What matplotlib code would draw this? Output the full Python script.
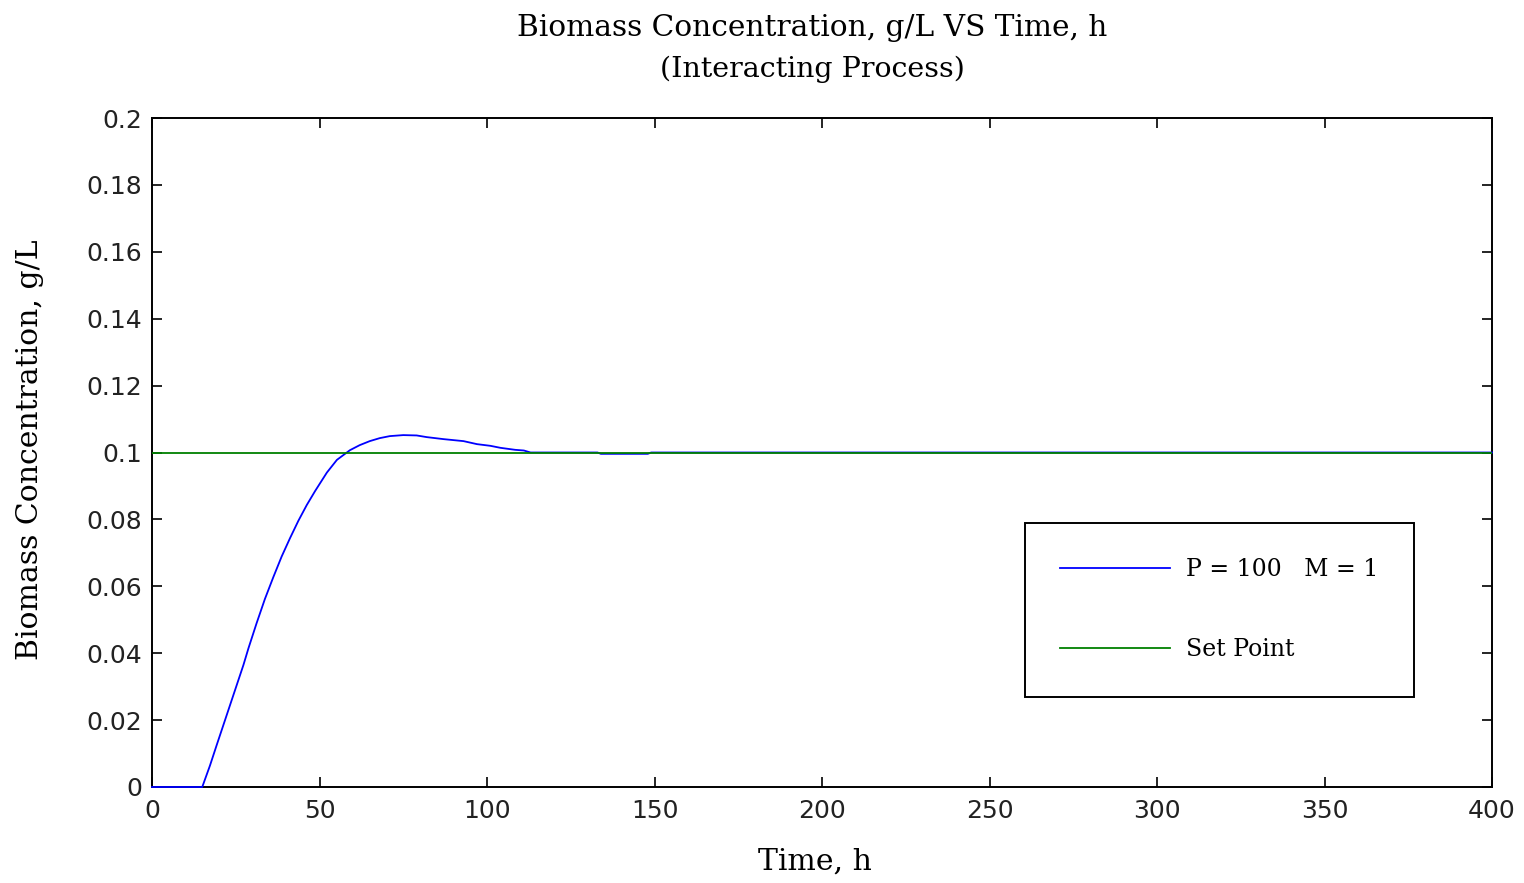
import matplotlib
matplotlib.use("Agg")
import matplotlib.pyplot as plt

# ---- data ----
time_h = [0, 15, 17.3, 19.3, 21.3, 23.3, 25.3, 27.3, 28.8, 31.2, 33.7, 36.2, 38.7,
          41.2, 43.7, 46.2, 48.7, 52.2, 55.2, 59.1, 62, 65, 68, 71,
          75, 79, 82, 87, 93, 97, 101, 104, 108.4, 111,
          113, 133, 134, 148, 149, 400]
biomass = [0, 0, 0.0064, 0.0125, 0.0185, 0.0245, 0.0305, 0.0365, 0.0415, 0.0489,
           0.0562, 0.0627, 0.0689, 0.0744, 0.0796, 0.0843, 0.0885, 0.0940,
           0.0978, 0.1007, 0.1022, 0.1034, 0.1043, 0.1049, 0.1052, 0.1051,
           0.1046, 0.1040, 0.1034, 0.1025, 0.1020, 0.1014, 0.1008, 0.1006,
           0.1000, 0.1000, 0.0996, 0.0996, 0.1000, 0.1000]
setpoint_t = [0, 400]
setpoint_y = [0.1, 0.1]

xticks = [0, 50, 100, 150, 200, 250, 300, 350, 400]
xticklabels = ["0", "50", "100", "150", "200", "250", "300", "350", "400"]
yticks = [0, 0.02, 0.04, 0.06, 0.08, 0.1, 0.12, 0.14, 0.16, 0.18, 0.2]
yticklabels = ["0", "0.02", "0.04", "0.06", "0.08", "0.1", "0.12", "0.14", "0.16", "0.18", "0.2"]

title_lines = ["Biomass Concentration, g/L VS Time, h", "(Interacting Process)"]
xlabel = "Time, h"
ylabel = "Biomass Concentration, g/L"
legend_labels = ["P = 100   M = 1", "Set Point"]

# ---- figure ----
W, H = 1524, 883
fig = plt.figure(figsize=(W / 100, H / 100), dpi=100)
ax = fig.add_axes([152 / W, 1 - 787 / H, (1492 - 152) / W, (787 - 118) / H])

serif = ["DejaVu Serif"]
sans = ["DejaVu Sans"]

l1, = ax.plot(time_h, biomass, color=(0, 0, 1), lw=1.3, zorder=3, clip_on=False)
l2, = ax.plot(setpoint_t, setpoint_y, color=(0, 0.5, 0), lw=1.3, zorder=3)

ax.set_xlim(0, 400)
ax.set_ylim(0, 0.2)
ax.set_xticks(xticks)
ax.set_xticklabels(xticklabels, fontfamily=sans, fontsize=18)
ax.set_yticks(yticks)
ax.set_yticklabels(yticklabels, fontfamily=sans, fontsize=18)
ax.tick_params(direction="in", length=7, width=1.2, top=True, right=True,
               colors="black", labelcolor="#222222")
ax.tick_params(axis="x", pad=9)
ax.tick_params(axis="y", pad=7)
for s in ax.spines.values():
    s.set_linewidth(1.4)
    s.set_color("black")

fig.text(812 / W, 1 - 28 / H, title_lines[0], ha="center", va="center",
         fontfamily=serif, fontsize=21.3)
fig.text(812 / W, 1 - 69 / H, title_lines[1], ha="center", va="center",
         fontfamily=serif, fontsize=20.5)
fig.text(815 / W, 1 - 862 / H, xlabel, ha="center", va="center",
         fontfamily=serif, fontsize=21.5)
fig.text(30 / W, 1 - 450 / H, ylabel, ha="center", va="center", rotation=90,
         fontfamily=serif, fontsize=21.5)

leg = ax.legend([l1, l2], legend_labels, loc="upper left",
                bbox_to_anchor=(1025 / W, 1 - 523 / H), bbox_transform=fig.transFigure,
                borderaxespad=0, prop={"family": serif, "size": 17},
                handlelength=4.66, handletextpad=0.68, labelspacing=2.4,
                borderpad=1.5, fancybox=False, framealpha=1, edgecolor="black")
leg.get_frame().set_linewidth(1.4)

fig.savefig("out.png", dpi=100)
